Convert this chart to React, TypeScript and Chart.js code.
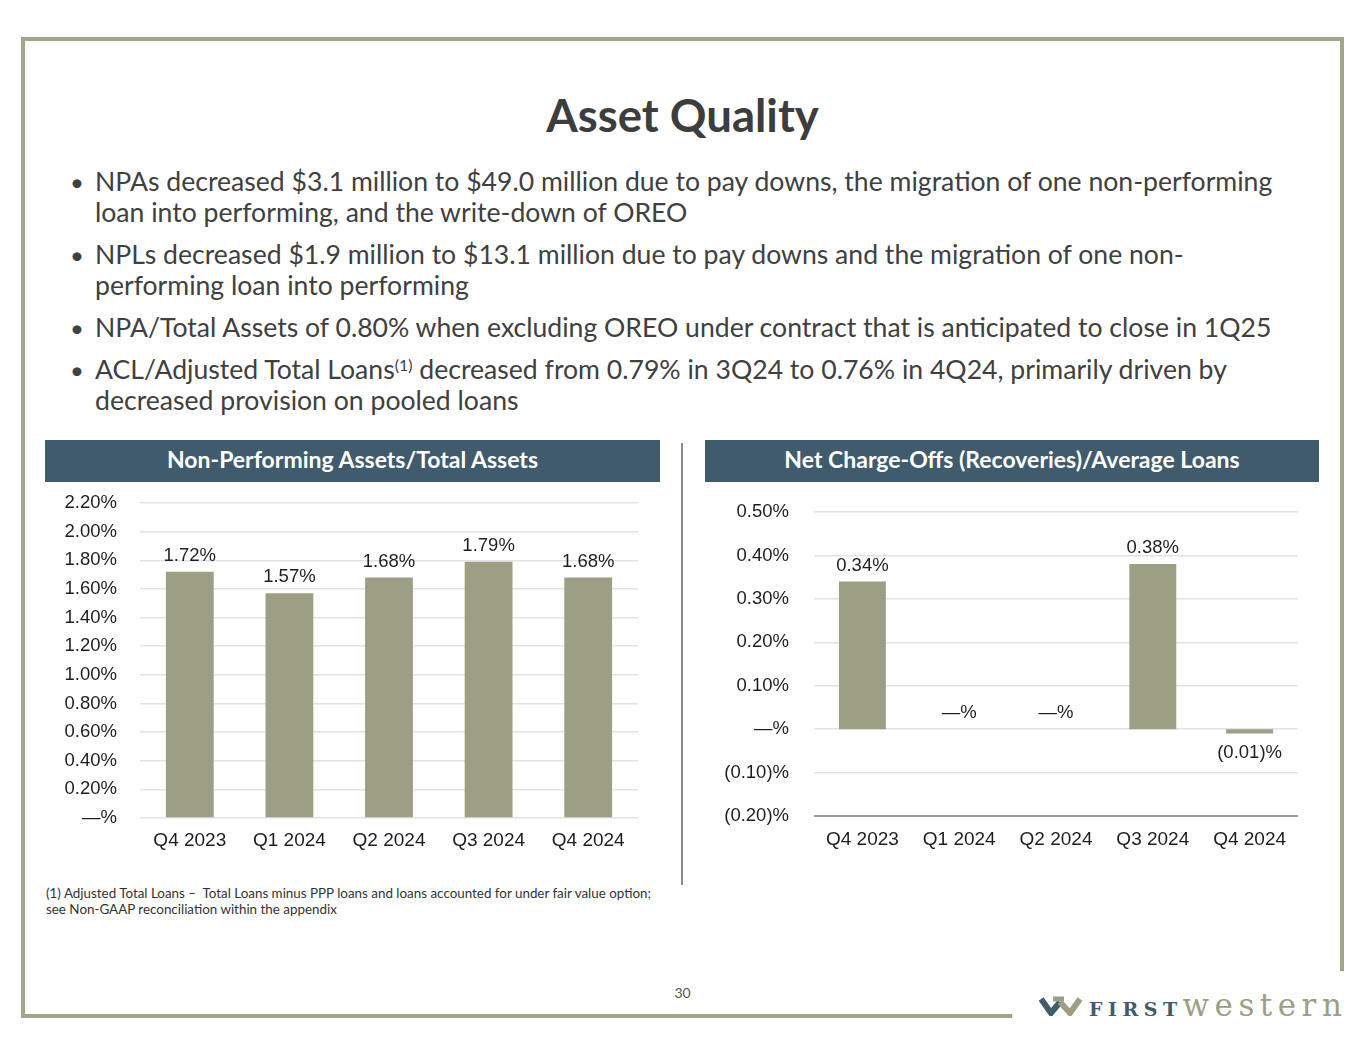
import React, { useEffect, useRef } from "react";
import { Chart, registerables } from "chart.js";

Chart.register(...registerables);

const quarters = ["Q4 2023", "Q1 2024", "Q2 2024", "Q3 2024", "Q4 2024"];
const npaValues = [1.72, 1.57, 1.68, 1.79, 1.68];
const ncoValues = [0.34, 0, 0, 0.38, -0.01];
const npaTicks = { min: 0, max: 2.2, step: 0.2 };
const ncoTicks = { min: -0.2, max: 0.5, step: 0.1 };

const BAR = "#9c9f83";
const HEADER = "#3f5b6c";
const BORDER = "#a2a58a";
const TEXT = "#404040";
const CHART_FONT = "'Liberation Sans', Arial, sans-serif";

function fmtPct(v: number): string {
  const r = Math.round(v * 100) / 100;
  if (Math.abs(r) < 1e-9) return "\u2014%";
  if (r < 0) return "(" + Math.abs(r).toFixed(2) + ")%";
  return r.toFixed(2) + "%";
}

const labelPlugin = {
  id: "barLabels",
  afterDatasetsDraw(chart: any) {
    const ctx = chart.ctx;
    const meta = chart.getDatasetMeta(0);
    const data = chart.data.datasets[0].data as number[];
    ctx.save();
    ctx.font = "18.5px " + CHART_FONT;
    ctx.fillStyle = "#1e1e1e";
    ctx.textAlign = "center";
    ctx.textBaseline = "middle";
    meta.data.forEach((bar: any, i: number) => {
      const v = data[i];
      const y = v >= 0 ? bar.y - 16 : bar.y + 19;
      ctx.fillText(fmtPct(v), bar.x, y);
    });
    ctx.restore();
  },
};

function BarChart(props: {
  values: number[];
  range: { min: number; max: number; step: number };
  width: number;
  height: number;
  yWidth: number;
  yPad: number;
  xHeight: number;
  xPad: number;
  top: number;
  right: number;
  barPct: number;
  darkBottom: boolean;
}) {
  const ref = useRef<HTMLCanvasElement | null>(null);
  useEffect(() => {
    if (!ref.current) return;
    const chart = new Chart(ref.current, {
      type: "bar",
      data: {
        labels: quarters,
        datasets: [
          {
            data: props.values,
            backgroundColor: BAR,
            barPercentage: props.barPct,
            categoryPercentage: 1,
          },
        ],
      },
      options: {
        responsive: false,
        animation: false,
        maintainAspectRatio: false,
        layout: { padding: { top: props.top, right: props.right, left: 0, bottom: 0 } },
        plugins: { legend: { display: false }, tooltip: { enabled: false } },
        scales: {
          x: {
            grid: { display: false, drawTicks: false },
            border: { display: false },
            ticks: { font: { size: 19, family: CHART_FONT }, color: "#1e1e1e", padding: props.xPad },
            afterFit: (s: any) => {
              s.height = props.xHeight;
            },
          },
          y: {
            min: props.range.min,
            max: props.range.max,
            ticks: {
              stepSize: props.range.step,
              font: { size: 18.5, family: CHART_FONT },
              color: "#1e1e1e",
              padding: props.yPad,
              callback: (v: any) => fmtPct(Number(v)),
            },
            grid: {
              drawTicks: false,
              color: (c: any) =>
                props.darkBottom && c.tick && c.tick.value <= props.range.min + 1e-6 ? "#9a9a9a" : "#e2e2e2",
              lineWidth: (c: any) =>
                props.darkBottom && c.tick && c.tick.value <= props.range.min + 1e-6 ? 2 : 1.5,
            },
            border: { display: false },
            afterFit: (s: any) => {
              s.width = props.yWidth;
              s.paddingTop = 0;
              s.paddingBottom = 0;
            },
          },
        },
      },
      plugins: [labelPlugin],
    });
    return () => chart.destroy();
  }, []);
  return <canvas ref={ref} width={props.width} height={props.height} style={{ display: "block" }} />;
}

const bullets: React.ReactNode[][] = [
  [
    "NPAs decreased $3.1 million to $49.0 million due to pay downs, the migration of one non-performing",
    "loan into performing, and the write-down of OREO",
  ],
  [
    "NPLs decreased $1.9 million to $13.1 million due to pay downs and the migration of one non-",
    "performing loan into performing",
  ],
  ["NPA/Total Assets of 0.80% when excluding OREO under contract that is anticipated to close in 1Q25"],
  [
    <>
      ACL/Adjusted Total Loans<sup style={{ fontSize: 16, verticalAlign: "8px", lineHeight: 0 }}>(1)</sup> decreased
      from 0.79% in 3Q24 to 0.76% in 4Q24, primarily driven by
    </>,
    "decreased provision on pooled loans",
  ],
];

export default function App() {
  const abs = (s: React.CSSProperties): React.CSSProperties => ({ position: "absolute", ...s });
  const headerStyle = (left: number, width: number): React.CSSProperties =>
    abs({
      left,
      top: 440,
      width,
      height: 42,
      background: HEADER,
      color: "#fff",
      fontWeight: 700,
      fontSize: 23,
      lineHeight: "38px",
      textAlign: "center",
      whiteSpace: "nowrap",
    });
  return (
    <div
      style={{
        position: "absolute",
        left: 0,
        top: 0,
        width: 1365,
        height: 1055,
        background: "#fff",
        fontFamily: "Lato, 'Open Sans', sans-serif",
        color: TEXT,
        overflow: "hidden",
      }}
    >
      {/* frame */}
      <div style={abs({ left: 21, top: 37, width: 1323, height: 4, background: BORDER })} />
      <div style={abs({ left: 21, top: 37, width: 4, height: 981, background: BORDER })} />
      <div style={abs({ left: 1340, top: 37, width: 4, height: 934, background: BORDER })} />
      <div style={abs({ left: 21, top: 1014, width: 991, height: 4, background: BORDER })} />

      <div
        style={abs({
          left: 0,
          width: 1365,
          top: 88,
          textAlign: "center",
          fontSize: 45.5,
          fontWeight: 700,
          color: "#3d3d3d",
          lineHeight: "54px",
        })}
      >
        Asset Quality
      </div>

      <div style={abs({ left: 70, top: 166, width: 1280 })}>
        {bullets.map((lines, i) => (
          <div key={i} style={{ position: "relative", paddingLeft: 25, marginBottom: 11 }}>
            <span style={{ position: "absolute", left: 0, top: 0, fontSize: 24, lineHeight: "31px" }}>•</span>
            {lines.map((l, j) => (
              <div key={j} style={{ fontSize: 26.6, lineHeight: "31px", whiteSpace: "nowrap" }}>
                {l}
              </div>
            ))}
          </div>
        ))}
      </div>

      {/* headers */}
      <div style={headerStyle(45, 615)}>Non-Performing Assets/Total Assets</div>
      <div style={headerStyle(705, 614)}>Net Charge-Offs (Recoveries)/Average Loans</div>

      <div style={abs({ left: 681, top: 443, width: 2, height: 442, background: "#8a8a8a" })} />

      <div style={abs({ left: 45, top: 485 })}>
        <BarChart
          values={npaValues}
          range={npaTicks}
          width={615}
          height={375}
          yWidth={95}
          yPad={23}
          xHeight={42}
          xPad={11}
          top={18}
          right={22}
          barPct={0.48}
          darkBottom={false}
        />
      </div>
      <div style={abs({ left: 705, top: 485 })}>
        <BarChart
          values={ncoValues}
          range={ncoTicks}
          width={614}
          height={375}
          yWidth={109}
          yPad={25}
          xHeight={44}
          xPad={12}
          top={27}
          right={21}
          barPct={0.485}
          darkBottom={true}
        />
      </div>

      <div style={abs({ left: 46, top: 885, fontSize: 13.4, lineHeight: "16px", color: "#333", whiteSpace: "nowrap" })}>
        (1) Adjusted Total Loans – &nbsp;Total Loans minus PPP loans and loans accounted for under fair value option;
        <br />
        see Non-GAAP reconciliation within the appendix
      </div>

      <div style={abs({ left: 0, width: 1365, top: 984, textAlign: "center", fontSize: 14, color: "#555" })}>30</div>

      {/* logo */}
      <svg style={abs({ left: 1039, top: 996 })} width="44" height="20" viewBox="0 0 44 20">
        <polyline points="2,3 12,17 21,6" fill="none" stroke={HEADER} strokeWidth="6" strokeLinejoin="miter" />
        <polyline points="21,6 31,17 41,3" fill="none" stroke={BAR} strokeWidth="6" strokeLinejoin="miter" />
        <polyline points="14,3 25,3" fill="none" stroke={BAR} strokeWidth="5" />
      </svg>
      <div
        style={abs({
          left: 1089,
          top: 989,
          fontFamily: "'DejaVu Serif', 'Liberation Serif', serif",
          whiteSpace: "nowrap",
          lineHeight: "32px",
        })}
      >
        <span style={{ color: HEADER, fontWeight: 700, fontSize: 19, letterSpacing: 5.5 }}>FIRST</span>
        <span style={{ color: "#9c9f83", fontSize: 31, letterSpacing: 5.5 }}>western</span>
      </div>
    </div>
  );
}
